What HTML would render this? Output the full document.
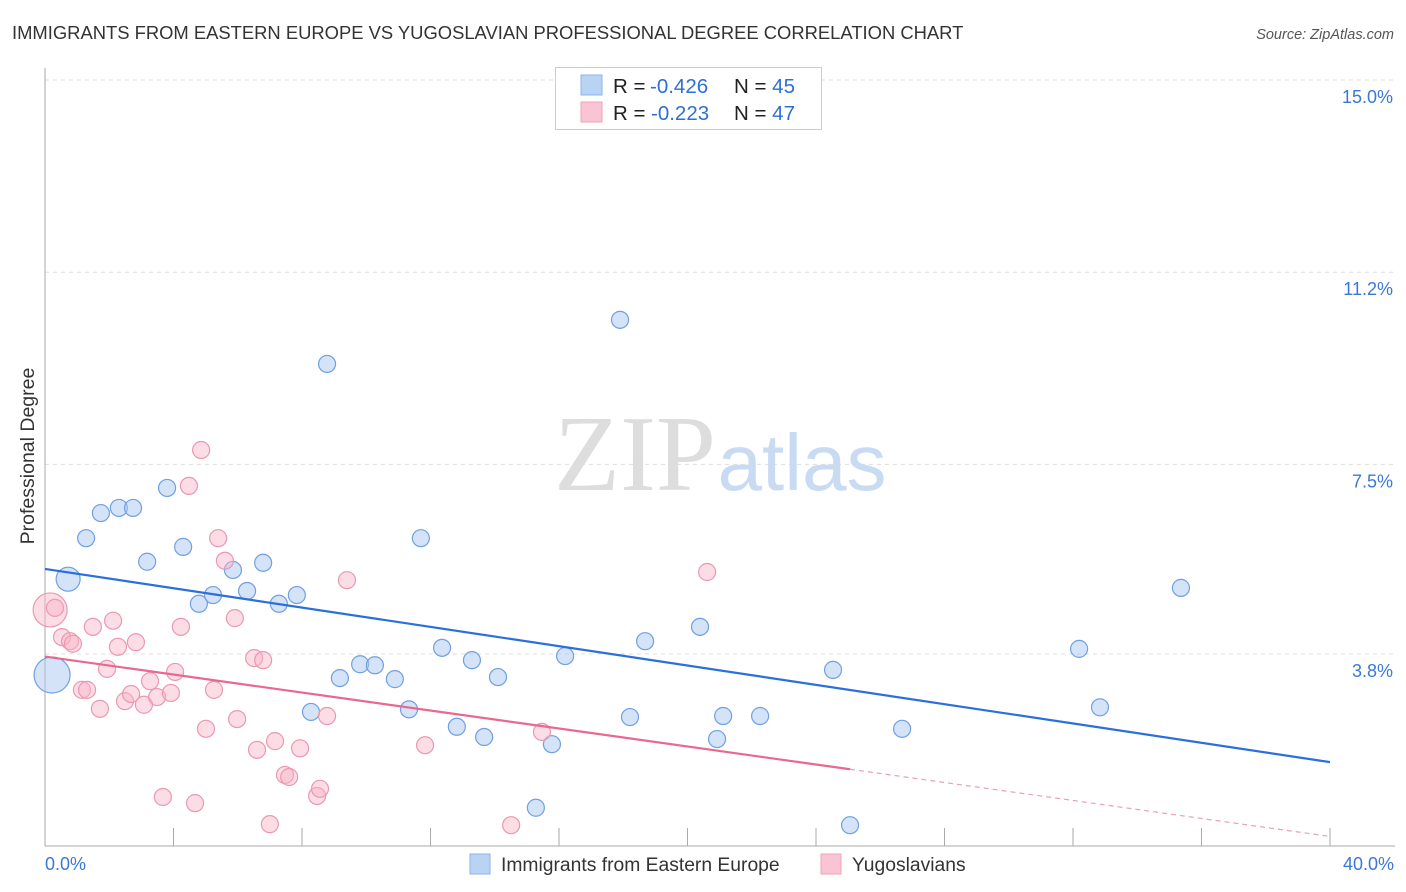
<!DOCTYPE html>
<html><head><meta charset="utf-8"><style>
body{margin:0;background:#fff;font-family:"Liberation Sans",sans-serif;}
svg{display:block}
</style></head><body>
<svg id="chart" width="1406" height="892" viewBox="0 0 1406 892">
<text x="12" y="39" font-size="18.4" fill="#333">IMMIGRANTS FROM EASTERN EUROPE VS YUGOSLAVIAN PROFESSIONAL DEGREE CORRELATION CHART</text>
<text x="1394" y="39" font-size="14.5" fill="#555" font-style="italic" text-anchor="end">Source: ZipAtlas.com</text>
<text x="34" y="456" font-size="19.5" fill="#333" text-anchor="middle" transform="rotate(-90 34 456)">Professional Degree</text>
<g id="grid"></g>
<g id="wm">
<text x="635" y="490" font-size="108" fill="#ddd" font-family="Liberation Serif,serif" text-anchor="middle">ZIP</text>
<text x="802" y="490" font-size="80" fill="#c9dbf3" text-anchor="middle">atlas</text>
</g>
<g id="marks"></g>
<g id="lines"></g>
<g>
<rect x="555.5" y="67.5" width="266" height="62" fill="#fff" stroke="#ccc"/>
<rect x="581" y="75" width="21" height="20" fill="#b9d3f5" stroke="#8ab4ea"/>
<rect x="581" y="102" width="21" height="20" fill="#f9c5d4" stroke="#f0a3ba"/>
<text x="613" y="93" font-size="20.5" fill="#222">R = <tspan x="650" fill="#2e6fd6">-0.426</tspan><tspan x="734">N = </tspan><tspan fill="#2e6fd6">45</tspan></text>
<text x="613" y="120" font-size="20.5" fill="#222">R = <tspan x="651" fill="#2e6fd6">-0.223</tspan><tspan x="734">N = </tspan><tspan fill="#2e6fd6">47</tspan></text>
</g>
<g>
<rect x="470" y="854" width="20" height="20" fill="#b9d3f5" stroke="#8ab4ea"/>
<text x="501" y="871" font-size="19.3" fill="#333">Immigrants from Eastern Europe</text>
<rect x="821" y="854" width="20" height="20" fill="#f9c5d4" stroke="#f0a3ba"/>
<text x="852" y="871" font-size="19.3" fill="#333">Yugoslavians</text>
</g>
</svg>
<script>
const yTicks=[3.8,7.5,11.25,15.0];
const yTickLabels=["3.8%","7.5%","11.2%","15.0%"];
const xTickLabels=["0.0%","40.0%"];
const blueX=[0.22,0.72,1.28,1.74,2.30,2.74,3.18,3.80,4.30,4.79,5.23,5.85,6.29,6.79,7.28,7.84,8.28,8.78,9.18,9.81,10.27,10.89,11.33,11.70,12.36,12.82,13.29,13.67,14.10,15.28,15.78,16.19,17.90,18.21,18.68,20.39,20.92,21.11,22.26,24.53,25.06,26.68,32.19,32.84,35.36];
const blueY=[3.39,5.26,6.06,6.55,6.65,6.65,5.60,7.04,5.89,4.78,4.95,5.44,5.03,5.58,4.78,4.95,2.67,9.46,3.33,3.60,3.58,3.31,2.72,6.06,3.92,2.38,3.68,2.18,3.35,0.80,2.04,3.76,10.32,2.57,4.05,4.33,2.14,2.59,2.59,3.49,0.46,2.34,3.90,2.76,5.09];
const blueBig=[0,1];
const pinkX=[0.16,0.31,0.53,0.78,0.87,1.15,1.31,1.49,1.71,1.93,2.12,2.27,2.49,2.68,2.83,3.08,3.27,3.49,3.67,3.92,4.05,4.23,4.48,4.67,4.86,5.01,5.26,5.39,5.60,5.91,5.98,6.51,6.60,6.79,7.00,7.16,7.47,7.60,7.94,8.47,8.56,8.78,9.40,11.83,14.51,15.47,20.61];
const pinkY=[4.66,4.70,4.13,4.05,4.00,3.10,3.10,4.33,2.73,3.51,4.45,3.94,2.88,3.02,4.03,2.81,3.27,2.96,1.01,3.04,3.45,4.33,7.08,0.89,7.78,2.34,3.10,6.06,5.62,4.50,2.53,3.72,1.93,3.68,0.48,2.10,1.44,1.40,1.96,1.03,1.17,2.59,5.24,2.02,0.46,2.28,5.40];
const pinkBig=[0];
const blueTrend=[5.46,1.69];
const pinkTrend=[3.75,0.24];
const pinkSolidEnd=25.06;

const X0=45,X1=1330,XMAX=40;
const sx=v=>X0+(X1-X0)*v/XMAX;
const sy=v=>848.75-51.25*v;
const NS="http://www.w3.org/2000/svg";
function mk(t,a,p){const e=document.createElementNS(NS,t);for(const k in a)e.setAttribute(k,a[k]);p.appendChild(e);return e;}
const grid=document.getElementById('grid');
yTicks.forEach((t,i)=>{
  const l=mk('line',{x1:45,x2:1395,y1:sy(t),y2:sy(t),stroke:'#ddd','stroke-dasharray':'4,4'},grid);
  
  
  const tx=mk('text',{x:1393,y:sy(t)+23,'font-size':18,fill:'#3a78d8','text-anchor':'end'},grid);
  tx.textContent=yTickLabels[i];
  
  
});
const ax=mk('line',{x1:45,x2:45,y1:68,y2:846,stroke:'#aaa'},grid);


const bx=mk('line',{x1:45,x2:1395,y1:846,y2:846,stroke:'#aaa'},grid);


for(let i=0;i<=10;i++){const t=mk('line',{x1:sx(i*4),x2:sx(i*4),y1:828,y2:846,stroke:'#aaa'},grid);
  
  }
[[0,'start',45],[1,'end',1394]].forEach(([i,a,x])=>{const t=mk('text',{x:x,y:870,'font-size':18,fill:'#3a78d8','text-anchor':a},grid);t.textContent=xTickLabels[i];
  
  });
const marks=document.getElementById('marks');


blueX.forEach((x,i)=>{const c=mk('circle',{cx:sx(x),cy:sy(blueY[i]),r:blueBig.includes(i)?(i==0?18:12):8.5,fill:'rgba(170,200,240,0.5)',stroke:'#6fa0e3','stroke-width':1.2},marks);
  
  });
pinkX.forEach((x,i)=>{const c=mk('circle',{cx:sx(x),cy:sy(pinkY[i]),r:pinkBig.includes(i)?17:8.5,fill:'rgba(248,180,200,0.45)',stroke:'#ea98b2','stroke-width':1.2},marks);
  
  });
const lines=document.getElementById('lines');
const bl=mk('line',{x1:sx(0),y1:sy(blueTrend[0]),x2:sx(40),y2:sy(blueTrend[1]),stroke:'#2a6fdb','stroke-width':2.2},lines);


const pm=pinkTrend[0]+(pinkTrend[1]-pinkTrend[0])*pinkSolidEnd/40;
const pl=mk('line',{x1:sx(0),y1:sy(pinkTrend[0]),x2:sx(pinkSolidEnd),y2:sy(pm),stroke:'#e8688f','stroke-width':2.2},lines);


const pd=mk('line',{x1:sx(pinkSolidEnd),y1:sy(pm),x2:sx(40),y2:sy(pinkTrend[1]),stroke:'#e8a0b5','stroke-width':1.2,'stroke-dasharray':'5,4'},lines);


</script>
</body></html>
